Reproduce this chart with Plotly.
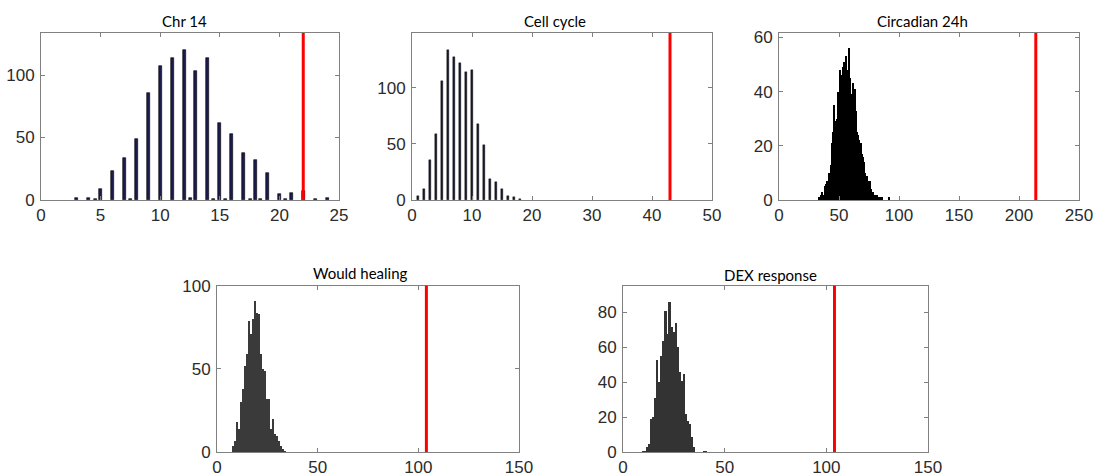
import plotly.graph_objects as go

# ---------------- data ----------------
titles = ["Chr 14", "Cell cycle", "Circadian 24h", "Would healing", "DEX response"]

chr14_x = [3, 4, 4.55, 5, 6, 7, 7.5, 8, 9, 10, 11, 12, 12.55, 13, 14, 14.5, 15, 15.5,
           16, 17, 17.55, 18, 18.45, 19, 20, 20.5, 21, 22, 23, 24]
chr14_y = [2, 2, 1, 9, 23, 34, 1, 49, 86, 107, 114, 120, 2, 103, 114, 1, 62, 1,
           53, 38, 1, 32, 1, 22, 5, 1, 6, 7, 1, 2]
chr14_obs = 22

cell_x = [1, 2, 3, 4, 5, 6, 7, 8, 9, 10, 11, 12, 13, 14, 15, 16, 17, 18]
cell_y = [4, 10, 36, 59, 106, 134, 128, 122, 114, 116, 68, 49, 19, 16, 10, 4, 3, 1]
cell_obs = 43

circ_x = [33, 34, 35, 36, 37, 38, 39, 40, 41, 42, 43, 44, 45, 46, 47, 48, 49, 50,
          51, 52, 53, 54, 55, 56, 57, 58, 59, 60, 61, 62, 63, 64, 65, 66, 67, 68,
          69, 70, 71, 72, 73, 74, 75, 76, 77, 78, 79, 80, 81, 82, 83, 85, 86, 92]
circ_y = [1, 1, 2, 3, 2, 5, 6, 7, 6, 10, 13, 21, 25, 35, 29, 30, 40, 36,
          48, 46, 49, 51, 50, 53, 48, 56, 45, 39, 37, 43, 41, 33, 25, 24, 22, 21,
          17, 16, 14, 10, 9, 7, 6, 7, 4, 3, 2, 2, 1, 2, 1, 1, 1, 1]
circ_obs = 214

wound_x = [8, 9, 10, 11, 12, 13, 14, 15, 16, 17, 18, 19, 20, 21, 22, 23, 24, 25,
           26, 27, 28, 29, 30, 31, 32, 33, 34]
wound_y = [4, 7, 18, 14, 30, 38, 52, 59, 79, 71, 80, 91, 84, 83, 59, 50, 49, 32,
           32, 14, 20, 11, 10, 7, 4, 2, 1]
wound_obs = 104

dex_x = [10, 11, 12, 13, 14, 15, 16, 17, 18, 19, 20, 21, 22, 23, 24, 25, 26, 27,
         28, 29, 30, 31, 32, 33, 34, 35, 40, 41]
dex_y = [1, 1, 3, 5, 19, 20, 31, 53, 40, 55, 64, 81, 68, 86, 72, 69, 74, 60,
         46, 41, 45, 22, 18, 16, 9, 3, 1, 1]
dex_obs = 104

x_ranges = [[0, 25], [0, 50], [0, 250], [0, 150], [0, 150]]
y_ranges = [[0, 133.6], [0, 149], [0, 61.6], [0, 100], [0, 95.2]]
x_ticks = [[0, 5, 10, 15, 20, 25], [0, 10, 20, 30, 40, 50], [0, 50, 100, 150, 200, 250],
           [0, 50, 100, 150], [0, 50, 100, 150]]
y_ticks = [[0, 50, 100], [0, 50, 100], [0, 20, 40, 60], [0, 50, 100], [0, 20, 40, 60, 80]]

# ---------------- layout geometry ----------------
W, H = 1096, 476
boxes = [(41, 339, 33, 200), (412, 712, 33, 200), (779, 1079, 33, 200),
         (217, 519, 285.7, 452), (623, 928, 285.7, 452)]
title_pos = [(184, 21), (555, 21), (922, 21), (361, 273), (770, 275)]

series = [
    (chr14_x, chr14_y, 0.25, "#1b1b4d", "#000000", 0.6, chr14_obs),
    (cell_x, cell_y, 0.33, "#1a1a30", "#000000", 0.4, cell_obs),
    (circ_x, circ_y, 1.0, "#000000", "#000000", 0.0, circ_obs),
    (wound_x, wound_y, 0.85, "#3a3a3a", "#000000", 0.0, wound_obs),
    (dex_x, dex_y, 0.85, "#333333", "#000000", 0.0, dex_obs),
]

tick_family = "Liberation Sans"

fig = go.Figure()
layout = dict(
    width=W, height=H, margin=dict(l=0, r=0, t=0, b=0, pad=0, autoexpand=False),
    paper_bgcolor="white", plot_bgcolor="white", showlegend=False,
    font=dict(family=tick_family, size=15, color="#262626"),
    bargap=0,
)
shapes = []
annotations = []
for i, (xs, ys, w, fc, lc, lw, obs) in enumerate(series):
    k = "" if i == 0 else str(i + 1)
    x0, x1, yt, yb = boxes[i]
    fig.add_trace(go.Bar(
        x=xs, y=ys, width=w, xaxis="x" + k, yaxis="y" + k,
        marker=dict(color=fc, line=dict(color=lc, width=lw)),
    ))
    common = dict(showline=True, linecolor="#808080", linewidth=1, mirror="ticks",
                  ticks="inside", ticklen=4, tickcolor="#808080", showgrid=False,
                  zeroline=False, automargin=False,
                  tickfont=dict(family=tick_family, size=17, color="#2b2b2b"))
    layout["xaxis" + k] = dict(domain=[x0 / W, x1 / W], anchor="y" + k,
                               range=x_ranges[i], tickvals=x_ticks[i],
                               ticklabelstandoff=0, **common)
    layout["yaxis" + k] = dict(domain=[1 - yb / H, 1 - yt / H], anchor="x" + k,
                               range=y_ranges[i], tickvals=y_ticks[i],
                               ticklabelstandoff=2, **common)
    shapes.append(dict(type="line", xref="x" + k, yref="y" + k + " domain",
                       x0=obs, x1=obs, y0=0, y1=1,
                       line=dict(color="#ff0000", width=3)))
    tx, ty = title_pos[i]
    annotations.append(dict(text=titles[i], x=tx / W, y=1 - ty / H, xref="paper",
                            yref="paper", showarrow=False, xanchor="center",
                            yanchor="middle",
                            font=dict(family="Lato", size=15, color="#000000")))
layout["shapes"] = shapes
layout["annotations"] = annotations
fig.update_layout(**layout)
fig.write_html("out.html")
